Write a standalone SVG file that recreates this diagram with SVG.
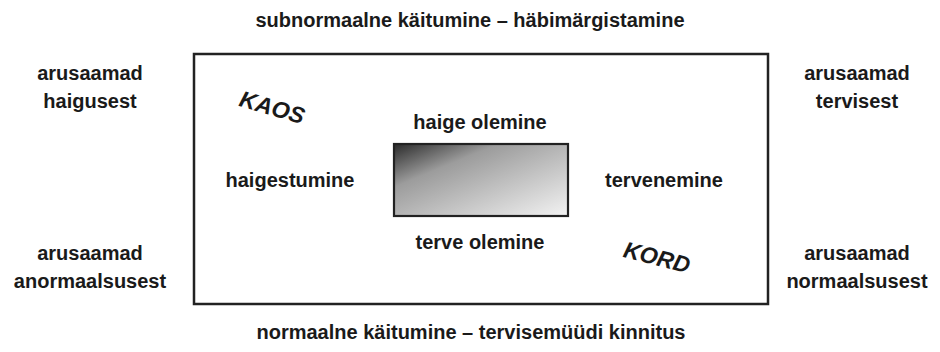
<svg xmlns="http://www.w3.org/2000/svg" width="940" height="352" viewBox="0 0 940 352">
<defs>
<linearGradient id="g" x1="0" y1="0" x2="1" y2="1">
<stop offset="0" stop-color="#2a2a2a"/>
<stop offset="0.3" stop-color="#9c9c9c"/>
<stop offset="1" stop-color="#f3f3f3"/>
</linearGradient>
<style>
text{font-family:"Liberation Sans",Arial,sans-serif;font-weight:bold;font-size:20px;fill:#1a1a1a;text-anchor:middle}
.big{font-size:23px;font-style:italic}
</style>
</defs>
<rect width="940" height="352" fill="#fff"/>
<g id="frame"><rect x="194" y="54" width="574" height="250" fill="none" stroke="#222" stroke-width="2.5"/></g>
<g id="core"><rect x="394" y="144" width="174" height="72" fill="url(#g)" stroke="#222" stroke-width="2.2"/></g>
<g id="top"><text x="470" y="27">subnormaalne käitumine – häbimärgistamine</text></g>
<g id="bottom"><text x="471" y="339">normaalne käitumine – tervisemüüdi kinnitus</text></g>
<g id="tl"><text x="90" y="80">arusaamad</text><text x="90" y="108">haigusest</text></g>
<g id="bl"><text x="90" y="260">arusaamad</text><text x="90" y="288">anormaalsusest</text></g>
<g id="tr"><text x="857" y="80">arusaamad</text><text x="857" y="108">tervisest</text></g>
<g id="br"><text x="857" y="260">arusaamad</text><text x="857" y="288">normaalsusest</text></g>
<g id="haige"><text x="480" y="129">haige olemine</text></g>
<g id="terve"><text x="480" y="249">terve olemine</text></g>
<g id="haigestumine"><text x="290" y="187">haigestumine</text></g>
<g id="tervenemine"><text x="664" y="187">tervenemine</text></g>
<g id="kaos"><text class="big" transform="translate(270,115) rotate(16)">KAOS</text></g>
<g id="kord"><text class="big" transform="translate(655,265) rotate(14)">KORD</text></g>
<g id="connectors"></g>
</svg>
